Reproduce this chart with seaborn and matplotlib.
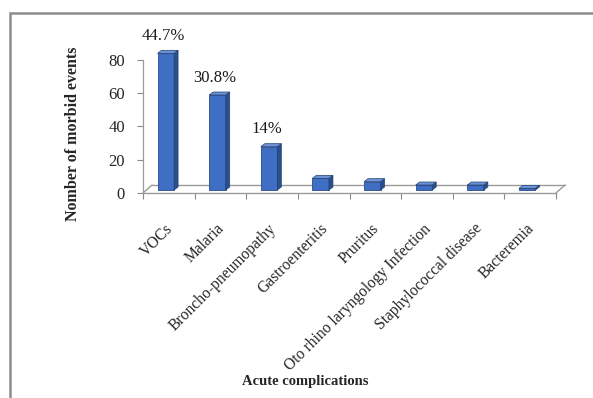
import matplotlib
matplotlib.use("Agg")
import matplotlib.pyplot as plt
import matplotlib.transforms as mtransforms
from matplotlib.patches import Polygon, Rectangle
import seaborn as sns
import pandas as pd

complications = ["VOCs", "Malaria", "Broncho-pneumopathy", "Gastroenteritis",
                 "Pruritus", "Oto rhino laryngology Infection",
                 "Staphylococcal disease", "Bacteremia"]
events = [82, 57, 26, 7, 5, 3, 3, 1]
pct_labels = ["44.7%", "30.8%", "14%", "", "", "", "", ""]
y_ticks = [0, 20, 40, 60, 80]

sns.set_theme(style="white")
plt.rcParams["font.family"] = ["Liberation Serif", "DejaVu Serif"]

df = pd.DataFrame({"complication": complications, "events": events})

fig = plt.figure(figsize=(5.93, 3.98), dpi=100)
ax = fig.add_axes([143 / 593, 1 - 193 / 398, 413 / 593, 140 / 398])

face = "#3f6fc4"
side = "#2b4f8e"
top = "#6c93d6"
sns.barplot(data=df, x="complication", y="events", color=face, width=0.32,
            saturation=1, edgecolor="#2a4a85", linewidth=0.6, ax=ax, zorder=3)

ax.set_xlim(-0.5, len(complications) - 0.5)
ax.set_ylim(0, 84)

def offset(px, py):
    return mtransforms.ScaledTranslation(px / 100, py / 100,
                                         fig.dpi_scale_trans)

# floor of the pseudo-3D plot: front edge, back edge and side joins
back = ax.transData + offset(9, 8)
x0, x1 = -0.5, len(complications) - 0.5
ax.plot([x0, x1], [0, 0], color="#9a9a9a", lw=1.0, clip_on=False, zorder=1)
ax.plot([x0, x1], [0, 0], color="#9a9a9a", lw=1.0, clip_on=False, zorder=1,
        transform=back)
for xe in (x0, x1):
    p0 = ax.transData.transform((xe, 0))
    p1 = back.transform((xe, 0))
    ax.plot([p0[0], p1[0]], [p0[1], p1[1]], color="#9a9a9a", lw=1.0,
            transform=None, clip_on=False, zorder=1)

# each bar stands slightly inside the floor, with side and top faces
bar_front = ax.transData + offset(-3, 3)
bar_back = bar_front + offset(4, 3)
for bar in ax.patches[:len(events)]:
    bar.set_transform(bar_front)
    bar.set_clip_on(False)
    bx, bw, bh = bar.get_x(), bar.get_width(), bar.get_height()
    fr_b = bar_front.transform((bx + bw, 0))
    fr_t = bar_front.transform((bx + bw, bh))
    fl_t = bar_front.transform((bx, bh))
    br_b = bar_back.transform((bx + bw, 0))
    br_t = bar_back.transform((bx + bw, bh))
    bl_t = bar_back.transform((bx, bh))
    ax.add_patch(Polygon([fr_b, br_b, br_t, fr_t], closed=True,
                         facecolor=side, edgecolor="#22406f", lw=0.5,
                         transform=None, clip_on=False, zorder=3))
    ax.add_patch(Polygon([fl_t, fr_t, br_t, bl_t], closed=True,
                         facecolor=top, edgecolor="#22406f", lw=0.5,
                         transform=None, clip_on=False, zorder=3))

# value labels above the tallest bars
for i, (v, lab) in enumerate(zip(events, pct_labels)):
    if lab:
        ax.annotate(lab, (i, v), xytext=(-4, 9), textcoords="offset points",
                    ha="center", va="bottom", fontsize=12, color="#1a1a1a")

ax.set_yticks(y_ticks)
ax.set_yticklabels([str(t) for t in y_ticks], fontsize=12)
ax.tick_params(axis="y", which="major", length=4, width=0.8, color="#8a8a8a",
               left=True, pad=9)

ax.set_xticks(range(len(complications)))
ax.set_xticklabels(complications, rotation=45, ha="right",
                   rotation_mode="anchor", fontsize=11.2)
ax.tick_params(axis="x", which="major", length=0, pad=20)
for lbl in ax.get_xticklabels():
    lbl.set_transform(lbl.get_transform() + offset(-4, 0))
ax.set_xticks([i - 0.5 for i in range(len(complications) + 1)], minor=True)
ax.tick_params(axis="x", which="minor", length=4, width=0.8,
               color="#8a8a8a", bottom=True)

for s in ("top", "right", "bottom"):
    ax.spines[s].set_visible(False)
ax.spines["left"].set_color("#9a9a9a")
ax.spines["left"].set_linewidth(0.9)
ax.spines["left"].set_bounds(0, 80)

ax.set_xlabel("")
ax.set_ylabel("Nomber of morbid events", fontsize=11.5, fontweight="bold")
ax.yaxis.set_label_coords(-0.15, 0.42)
fig.text(305 / 593, 1 - 382 / 398, "Acute complications", ha="center",
         va="center", fontsize=10.5, fontweight="bold")

# outer frame around the chart
fig.patches.append(Rectangle((10 / 593, -0.2), 1.0, 1.2 - 13 / 398,
                             transform=fig.transFigure, fill=False,
                             edgecolor="#8c8c8c", lw=1.8, zorder=0))

fig.savefig("out.png", dpi=100)
